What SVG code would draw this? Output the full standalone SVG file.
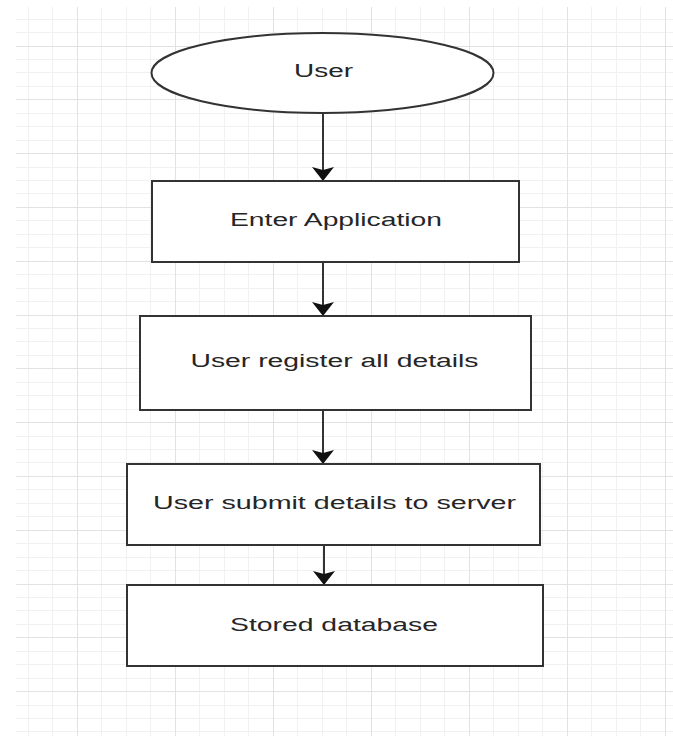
<svg xmlns="http://www.w3.org/2000/svg" width="673" height="740" viewBox="0 0 673 740">
<style>
.minor{stroke:#f1f1f1;stroke-width:1;fill:none}
.major{stroke:#e2e2e2;stroke-width:1;fill:none}
.shape{fill:#ffffff;stroke:#333333;stroke-width:2}
.lbl{font-family:"Liberation Sans",Arial,sans-serif;font-size:18px;fill:#262626;text-anchor:middle}
.edge{stroke:#333333;stroke-width:2;fill:none;marker-end:url(#arrow)}
</style>
<defs>
<marker id="arrow" markerUnits="userSpaceOnUse" viewBox="0 0 14 22" markerWidth="14" markerHeight="22" refX="14" refY="11" orient="auto">
<path d="M0,0 L14,11 L0,22 L3,11 Z" fill="#111111"/>
</marker>
</defs>
<rect x="0" y="0" width="673" height="740" fill="#ffffff"/>
<g id="grid">
<path class="minor" d="M28.5,7V736M52.5,7V736M101.5,7V736M126.5,7V736M150.5,7V736M199.5,7V736M224.5,7V736M248.5,7V736M297.5,7V736M322.5,7V736M346.5,7V736M395.5,7V736M420.5,7V736M444.5,7V736M493.5,7V736M518.5,7V736M542.5,7V736M591.5,7V736M616.5,7V736M640.5,7V736"/>
<path class="minor" d="M16,19.5H673M16,32.5H673M16,59.5H673M16,72.5H673M16,86.5H673M16,113.5H673M16,126.5H673M16,140.5H673M16,167.5H673M16,180.5H673M16,193.5H673M16,220.5H673M16,234.5H673M16,247.5H673M16,274.5H673M16,288.5H673M16,301.5H673M16,328.5H673M16,341.5H673M16,355.5H673M16,382.5H673M16,395.5H673M16,409.5H673M16,436.5H673M16,449.5H673M16,462.5H673M16,489.5H673M16,503.5H673M16,516.5H673M16,543.5H673M16,557.5H673M16,570.5H673M16,597.5H673M16,610.5H673M16,624.5H673M16,651.5H673M16,664.5H673M16,678.5H673M16,705.5H673M16,718.5H673M16,731.5H673"/>
<path class="major" d="M77.5,7V736M175.5,7V736M273.5,7V736M371.5,7V736M469.5,7V736M567.5,7V736M665.5,7V736"/>
<path class="major" d="M16,46.5H673M16,99.5H673M16,153.5H673M16,207.5H673M16,261.5H673M16,315.5H673M16,368.5H673M16,422.5H673M16,476.5H673M16,530.5H673M16,584.5H673M16,637.5H673M16,691.5H673"/>
</g>
<g id="connectors">
<path class="edge" d="M323,113V181"/>
<path class="edge" d="M323,262V316"/>
<path class="edge" d="M323,410V464"/>
<path class="edge" d="M324,545V585"/>
</g>
<g id="user">
<ellipse class="shape" cx="322.5" cy="73" rx="171" ry="40"/>
<text class="lbl" x="323.5" y="77" textLength="59" lengthAdjust="spacingAndGlyphs">User</text>
</g>
<g id="enter-application">
<rect class="shape" x="152" y="181" width="367" height="81"/>
<text class="lbl" x="336" y="226" textLength="212" lengthAdjust="spacingAndGlyphs">Enter Application</text>
</g>
<g id="register-details">
<rect class="shape" x="140" y="316" width="391" height="94"/>
<text class="lbl" x="334.5" y="367" textLength="288" lengthAdjust="spacingAndGlyphs">User register all details</text>
</g>
<g id="submit-details">
<rect class="shape" x="127" y="464" width="413" height="81"/>
<text class="lbl" x="334.5" y="509" textLength="363" lengthAdjust="spacingAndGlyphs">User submit details to server</text>
</g>
<g id="stored-database">
<rect class="shape" x="127" y="585" width="416" height="81"/>
<text class="lbl" x="334" y="631" textLength="208" lengthAdjust="spacingAndGlyphs">Stored database</text>
</g>
</svg>
